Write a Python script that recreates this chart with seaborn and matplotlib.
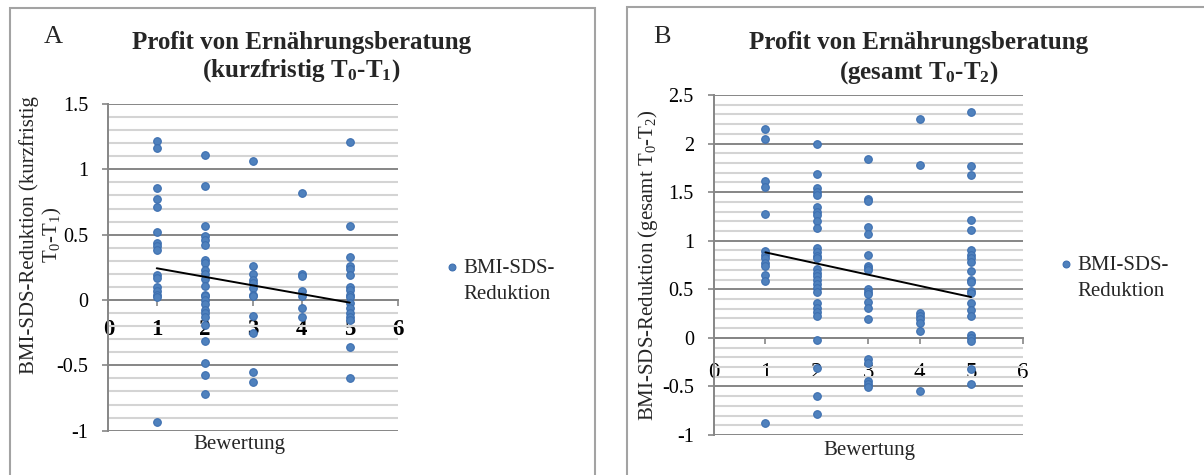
import matplotlib
matplotlib.use("Agg")
import matplotlib.pyplot as plt
import seaborn as sns
import pandas as pd
from matplotlib.ticker import MultipleLocator, FuncFormatter
from matplotlib.patches import Rectangle

# ---------------- data ----------------
a_x1 = [1.22, 1.16, 0.86, 0.77, 0.71, 0.52, 0.44, 0.41, 0.38, 0.19, 0.17, 0.10, 0.07, 0.04, 0.02, -0.93]
a_x2 = [1.11, 0.87, 0.57, 0.49, 0.46, 0.42, 0.31, 0.28, 0.23, 0.20, 0.16, 0.11, 0.04, 0.03, 0.00,
        -0.03, -0.08, -0.10, -0.13, -0.19, -0.31, -0.48, -0.57, -0.72]
a_x3 = [1.06, 0.26, 0.20, 0.15, 0.13, 0.09, 0.04, 0.03, -0.12, -0.25, -0.55, -0.63]
a_x4 = [0.82, 0.20, 0.18, 0.07, 0.03, -0.06, -0.13]
a_x5 = [1.21, 0.57, 0.33, 0.26, 0.24, 0.19, 0.10, 0.08, 0.04, 0.02, -0.02, -0.06, -0.10, -0.13,
        -0.15, -0.36, -0.60]

b_x1 = [2.15, 2.05, 1.61, 1.55, 1.28, 0.89, 0.85, 0.82, 0.77, 0.74, 0.65, 0.59, -0.88]
b_x2 = [2.00, 1.69, 1.54, 1.50, 1.47, 1.35, 1.30, 1.26, 1.20, 1.13, 0.93, 0.88, 0.84, 0.82, 0.71,
        0.67, 0.64, 0.60, 0.55, 0.51, 0.47, 0.36, 0.31, 0.27, 0.22, -0.02, -0.31, -0.60, -0.78]
b_x3 = [1.84, 1.43, 1.41, 1.14, 1.07, 0.85, 0.74, 0.72, 0.70, 0.50, 0.47, 0.45, 0.37, 0.31, 0.19,
        -0.22, -0.26, -0.44, -0.48, -0.51]
b_x4 = [2.25, 1.78, 0.26, 0.23, 0.19, 0.15, 0.07, -0.55]
b_x5 = [2.33, 1.77, 1.68, 1.21, 1.11, 0.90, 0.85, 0.82, 0.78, 0.69, 0.60, 0.57, 0.48, 0.46, 0.36,
        0.29, 0.22, 0.03, 0.00, -0.03, -0.32, -0.47]

ratings = [1, 2, 3, 4, 5]
trend_x = [1, 5]
trend_a = [0.243, -0.02]
trend_b = [0.88, 0.42]

series_name = "BMI-SDS-Reduktion"


def to_frame(cols):
    xs, ys = [], []
    for r, vals in zip(ratings, cols):
        xs += [r] * len(vals)
        ys += vals
    return pd.DataFrame({"Bewertung": xs, "Wert": ys})


df_a = to_frame([a_x1, a_x2, a_x3, a_x4, a_x5])
df_b = to_frame([b_x1, b_x2, b_x3, b_x4, b_x5])
tr_a = pd.DataFrame({"Bewertung": trend_x, "Wert": trend_a})
tr_b = pd.DataFrame({"Bewertung": trend_x, "Wert": trend_b})

# ---------------- style ----------------
sns.set_theme(style="white")
plt.rcParams["font.family"] = ["Liberation Serif", "DejaVu Serif"]
plt.rcParams["mathtext.fontset"] = "custom"
plt.rcParams["mathtext.rm"] = "Liberation Serif"
plt.rcParams["mathtext.bf"] = "Liberation Serif:bold"
plt.rcParams["mathtext.it"] = "Liberation Serif:italic"
plt.rcParams["axes.unicode_minus"] = False

W, H = 1204, 475
fig = plt.figure(figsize=(W / 100, H / 100), dpi=100)
fig.patch.set_facecolor("white")

GRID_MAJ = "#868686"
GRID_MIN = "#d4d4d4"
BLUE = "#4f81bd"
EDGE = "#3d6fb0"


def fx(px):
    return px / W


def fy(py):
    return 1 - py / H


# panel frames
fig.add_artist(Rectangle((fx(10), -0.1), fx(595 - 10), fy(8) + 0.1, transform=fig.transFigure,
                         fill=False, ec="#a3a3a3", lw=1.5, clip_on=False))
fig.add_artist(Rectangle((fx(627), -0.1), 1.0, fy(7) + 0.1, transform=fig.transFigure,
                         fill=False, ec="#a3a3a3", lw=1.5, clip_on=False))

axA = fig.add_axes([fx(108.5), fy(430.7), fx(398 - 108.5), (430.7 - 104) / H])
axB = fig.add_axes([fx(714), fy(435), fx(1022.5 - 714), (435 - 95) / H])

fmt = FuncFormatter(lambda v, p: "%g" % round(v, 2))


def style(ax, ylo, yhi, xbold, xpad):
    ax.set_xlim(0, 6)
    ax.set_ylim(ylo, yhi)
    ax.set_facecolor("white")
    ax.xaxis.set_major_locator(MultipleLocator(1))
    ax.yaxis.set_major_locator(MultipleLocator(0.5))
    ax.yaxis.set_minor_locator(MultipleLocator(0.1))
    ax.yaxis.set_major_formatter(fmt)
    ax.grid(False)
    ax.grid(which="minor", axis="y", color=GRID_MIN, lw=1.5)
    ax.grid(which="major", axis="y", color=GRID_MAJ, lw=1.4)
    ax.set_axisbelow(True)
    for s in ("top", "right"):
        ax.spines[s].set_visible(False)
    ax.spines["bottom"].set_position(("data", 0))
    ax.spines["bottom"].set_color(GRID_MAJ)
    ax.spines["bottom"].set_linewidth(1.4)
    ax.spines["left"].set_color(GRID_MAJ)
    ax.spines["left"].set_linewidth(1.4)
    ax.tick_params(axis="y", which="major", left=True, direction="out", length=4.5,
                   width=1.2, color=GRID_MAJ, pad=10, labelsize=14.5, labelcolor="black")
    ax.tick_params(axis="y", which="minor", left=False)
    ax.tick_params(axis="x", which="major", bottom=True, direction="out", length=4.5,
                   width=1.2, color=GRID_MAJ, pad=xpad, labelsize=16.5, labelcolor="black")
    if xbold:
        for t in ax.get_xticklabels():
            t.set_fontweight("bold")


for ax, df, tr in ((axA, df_a, tr_a), (axB, df_b, tr_b)):
    sns.scatterplot(data=df, x="Bewertung", y="Wert", ax=ax, color=BLUE, edgecolor=EDGE,
                    linewidth=0.8, s=30, label=series_name, zorder=3, clip_on=False)
    sns.lineplot(data=tr, x="Bewertung", y="Wert", ax=ax, color="black", lw=1.4,
                 zorder=4, legend=False)

style(axA, -1, 1.5, True, 9.5)
style(axB, -1, 2.5, False, 13)

# axis titles (panel A's y title wraps onto a second, shorter line)
axA.set_ylabel("BMI-SDS-Reduktion (kurzfristig", fontsize=15)
axA.yaxis.label.set(ha="center", va="center", rotation_mode="default")
axA.yaxis.set_label_coords(fx(29), fy(235), transform=fig.transFigure)
fig.text(fx(52), fy(235), "T$_\\mathrm{0}$-T$_\\mathrm{1}$)", rotation=90, ha="center",
         va="center", fontsize=15)
axA.set_xlabel("Bewertung", fontsize=15)
axA.xaxis.label.set(va="center")
axA.xaxis.set_label_coords(fx(239), fy(445), transform=fig.transFigure)

axB.set_ylabel("BMI-SDS-Reduktion (gesamt T$_\\mathrm{0}$-T$_\\mathrm{2}$)", fontsize=15)
axB.yaxis.label.set(ha="center", va="center", rotation_mode="default")
axB.yaxis.set_label_coords(fx(648), fy(265), transform=fig.transFigure)
axB.set_xlabel("Bewertung", fontsize=15)
axB.xaxis.label.set(va="center")
axB.xaxis.set_label_coords(fx(869), fy(450), transform=fig.transFigure)

# chart titles and panel letters
fig.text(fx(301.5), fy(42), "Profit von Ernährungsberatung", ha="center", va="center",
         fontsize=18, fontweight="bold")
fig.text(fx(301.5), fy(71), "(kurzfristig T$_\\mathbf{0}$-T$_\\mathbf{1}$)", ha="center",
         va="center", fontsize=18, fontweight="bold")
fig.text(fx(919), fy(42), "Profit von Ernährungsberatung", ha="center", va="center",
         fontsize=18, fontweight="bold")
fig.text(fx(919), fy(73), "(gesamt T$_\\mathbf{0}$-T$_\\mathbf{2}$)", ha="center",
         va="center", fontsize=18, fontweight="bold")
fig.text(fx(53), fy(37), "A", ha="center", va="center", fontsize=19)
fig.text(fx(662), fy(37), "B", ha="center", va="center", fontsize=19)

# legends (marker aligned with the first line of a two-line entry)
legs = []
for ax, mx, my in ((axA, 451.5, 268), (axB, 1066, 265)):
    h, l = ax.get_legend_handles_labels()
    leg = ax.legend(h[:1], ["BMI-SDS-"], loc="center left",
                    bbox_to_anchor=(fx(mx - 6), fy(my)), bbox_transform=fig.transFigure,
                    frameon=False, fontsize=15, handlelength=0.6, handletextpad=0.25,
                    borderpad=0, borderaxespad=0, markerscale=0.9)
    legs.append(leg)

fig.canvas.draw()
for leg in legs:
    t = leg.get_texts()[0]
    bb = t.get_window_extent()
    fig.text(bb.x0 / W, (bb.y0 - 26) / H, "Reduktion", ha="left", va="bottom", fontsize=15)

fig.savefig("out.png", dpi=100, facecolor="white")
